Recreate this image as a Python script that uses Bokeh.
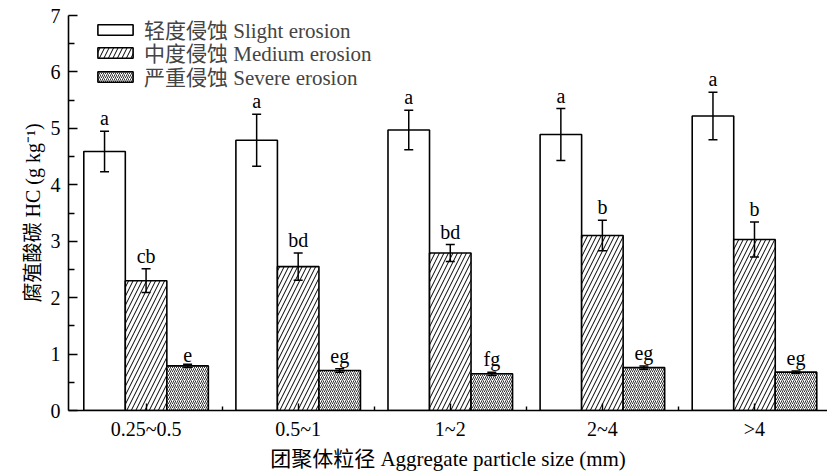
from bokeh.plotting import figure
from bokeh.models import (Range1d, FixedTicker, Whisker, ColumnDataSource,
                          Legend, LegendItem, TeeHead)
from bokeh.embed import file_html
from bokeh.resources import INLINE
from bokeh.core.properties import value

# ---- data ----
categories = ["0.25~0.5", "0.5~1", "1~2", "2~4", ">4"]
series_names = ["轻度侵蚀 Slight erosion", "中度侵蚀 Medium erosion", "严重侵蚀 Severe erosion"]
slight = [4.59, 4.79, 4.97, 4.89, 5.22]
slight_err = [0.36, 0.46, 0.35, 0.46, 0.42]
medium = [2.30, 2.55, 2.79, 3.10, 3.03]
medium_err = [0.21, 0.24, 0.15, 0.27, 0.31]
severe = [0.79, 0.71, 0.65, 0.76, 0.68]
severe_err = [0.03, 0.03, 0.03, 0.03, 0.02]
slight_letters = ["a", "a", "a", "a", "a"]
medium_letters = ["cb", "bd", "bd", "b", "b"]
severe_letters = ["e", "eg", "fg", "eg", "eg"]
y_ticks = [0, 1, 2, 3, 4, 5, 6, 7]

FONT = "Liberation Serif, Noto Sans CJK SC"
BAR_W = 0.273
centers = [i + 0.5 for i in range(len(categories))]

p = figure(width=827, height=473, x_range=Range1d(-0.01, 4.98), y_range=Range1d(0, 7),
           output_backend="svg", toolbar_location=None,
           min_border_left=68, min_border_right=0, min_border_top=15, min_border_bottom=62)
p.xgrid.visible = False
p.ygrid.visible = False
p.outline_line_color = None
p.background_fill_color = "white"
p.border_fill_color = "white"

series = [
    (slight, slight_err, slight_letters, -BAR_W, None, 1, 1.0),
    (medium, medium_err, medium_letters, 0.0, "/", 9, 1.0),
    (severe, severe_err, severe_letters, BAR_W, "/", 4, 0.8),
]

legend_y = [366, 343, 319]
for (vals, errs, letters, off, hatch, hscale, hweight), name, ly in zip(series, series_names, legend_y):
    xs = [c + off for c in centers]
    src = ColumnDataSource(dict(
        x=xs, top=vals,
        upper=[v + e for v, e in zip(vals, errs)],
        lower=[v - e for v, e in zip(vals, errs)],
        letters=letters,
    ))
    kw = dict(fill_color="white", line_color="black", line_width=1.6)
    if hatch:
        kw.update(hatch_pattern=hatch, hatch_scale=hscale, hatch_weight=hweight, hatch_color="black")
    r = p.vbar(x="x", top="top", width=BAR_W, source=src, **kw)
    w = Whisker(source=src, base="x", upper="upper", lower="lower", line_width=1.5,
                line_color="black", level="overlay",
                upper_head=TeeHead(size=9, line_width=1.5, line_color="black"),
                lower_head=TeeHead(size=9, line_width=1.5, line_color="black"))
    p.add_layout(w)
    p.text(x="x", y="upper", text="letters", source=src, text_align="center",
           text_baseline="bottom", y_offset=-2, text_font=value(FONT),
           text_font_size="20px", text_color="black")
    lg = Legend(items=[LegendItem(label=name, renderers=[r])], location=(25, ly),
                padding=0, spacing=0, glyph_width=44, glyph_height=13,
                label_height=24, label_standoff=7,
                label_text_font=FONT, label_text_font_size="21px",
                border_line_color=None, background_fill_alpha=0)
    p.add_layout(lg)

# x axis
xa = p.xaxis[0]
xa.ticker = FixedTicker(ticks=centers, minor_ticks=[1, 2, 3, 4])
xa.major_label_overrides = {c: lab for c, lab in zip(centers, categories)}
xa.axis_label = "团聚体粒径 Aggregate particle size (mm)"
# y axis
ya = p.yaxis[0]
ya.ticker = FixedTicker(ticks=y_ticks, minor_ticks=[t + 0.5 for t in y_ticks[:-1]])
ya.axis_label = "腐殖酸碳 HC (g kg⁻¹)"

for ax in (xa, ya):
    ax.axis_line_color = "black"
    ax.axis_line_width = 1.6
    ax.major_tick_line_color = "black"
    ax.minor_tick_line_color = "black"
    ax.major_tick_line_width = 1.4
    ax.minor_tick_line_width = 1.4
    ax.major_tick_out = 0
    ax.minor_tick_out = 0
    ax.major_label_text_font = FONT
    ax.major_label_text_font_size = "20px"
    ax.major_label_text_color = "black"
    ax.axis_label_text_font = FONT
    ax.axis_label_text_font_size = "20px"
    ax.axis_label_text_font_style = "normal"
    ax.axis_label_text_color = "black"

xa.axis_label_text_font_size = "21px"
xa.major_tick_in = 7
xa.minor_tick_in = 4
xa.major_label_standoff = 7
xa.axis_label_standoff = 4
ya.major_tick_in = 9
ya.minor_tick_in = 6
ya.major_label_standoff = 8
ya.axis_label_standoff = 4

open("out.html", "w").write(file_html(p, INLINE))
